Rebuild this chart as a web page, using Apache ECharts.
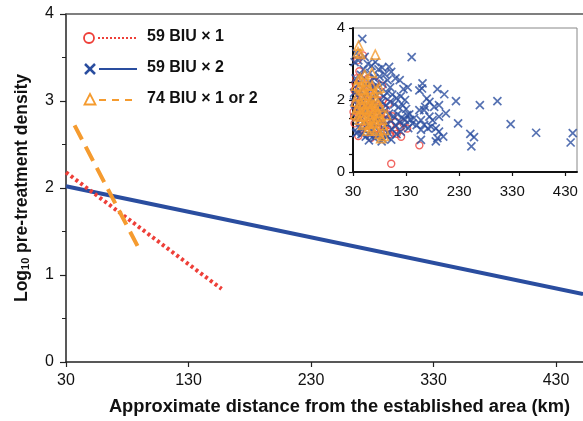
<!DOCTYPE html>
<html>
<head>
<meta charset="utf-8">
<script src="https://cdn.jsdelivr.net/npm/echarts@6/dist/echarts.min.js"></script>
<style>html,body{margin:0;padding:0;background:#fff}#c{width:583px;height:421px}</style>
</head>
<body>
<div id="c"></div>
<script>
// ---- data ----
var xTicks = [30, 130, 230, 330, 430];
var yTicksMain = [0, 1, 2, 3, 4];
var seriesNames = ['59 BIU \u00d7 1', '59 BIU \u00d7 2', '74 BIU \u00d7 1 or 2'];

// fitted lines (distance km, log10 density)
var fit1 = [[30, 2.18], [157, 0.84]];
var fit2 = [[30, 2.02], [452, 0.78]];
var fit3 = [[37, 2.72], [90, 1.29]];

// inset points
var pts1 = [[31,1.67],[33,2.27],[48.8,3.24],[102,0.23],[120.6,0.98],[112.5,1.06],[132,1.21],[155,0.74],[35,2.46],[86,2.0],
  [38,3.1],[34,1.9],[32,1.55],[45,1.4],[60,1.3],[75,1.2],[100,1.3],[108,1.15],[95,1.6],[90,1.25],
  [70,1.05],[55,1.1],[40,1.0],[65,1.6],[50,2.2],[58,2.6],[42,2.8],[37,2.0],[80,1.7],[85,2.4],
  [44,1.75],[52,1.5],[63,2.1],[68,1.85],[72,2.5],[78,1.35],[82,1.1],[92,1.45],[97,1.9],[104,1.55],
  [36,2.6],[41,2.3],[47,1.2],[54,1.9],[61,2.35],[66,1.35],[73,1.6],[88,1.75],[110,1.4],[118,1.25],
  [33,1.35],[39,1.6],[46,2.05],[57,1.7],[64,0.95],[76,2.0],[84,1.5],[99,1.05],[125,1.35]];
var pts2 = [[47.5,3.7],[36,3.3],[33,3.05],[40,3.1],[52,3.2],[58,3.0],[65,2.95],[72,3.05],[50,2.85],[45,2.7],
  [62,2.75],[78,2.85],[85,2.9],[98,2.92],[102,2.78],[90,2.72],[80,2.65],[110,2.6],[118,2.55],[95,2.55],
  [70,2.6],[60,2.5],[35,2.6],[40,2.45],[55,2.4],[67,2.35],[75,2.4],[86,2.45],[100,2.35],[125,2.3],
  [133,2.35],[140.6,3.19],[32,2.2],[38,2.15],[44,2.25],[52,2.1],[58,2.2],[64,2.05],[72,2.15],[80,2.2],
  [88,2.1],[94,2.2],[104,2.15],[112,2.05],[120,2.1],[128,2.0],[32,1.95],[40,1.9],[48,1.95],[56,1.85],
  [62,1.95],[70,1.9],[78,1.8],[84,1.95],[92,1.85],[100,1.95],[108,1.88],[116,1.8],[124,1.85],[130,1.75],
  [34,1.7],[42,1.75],[50,1.65],[58,1.7],[66,1.6],[74,1.68],[82,1.6],[90,1.7],[98,1.62],[106,1.55],
  [114,1.6],[122,1.52],[132,1.58],[138,1.45],[36,1.5],[44,1.45],[52,1.4],[60,1.5],[68,1.38],[76,1.45],
  [86,1.4],[94,1.35],[102,1.42],[110,1.3],[118,1.38],[126,1.3],[134,1.22],[40,1.25],[48,1.2],[56,1.3],
  [64,1.15],[72,1.25],[80,1.12],[88,1.2],[96,1.1],[104,1.18],[112,1.05],[120,1.12],[46,1.05],[54,0.98],
  [62,1.02],[70,0.95],[78,1.0],[86,0.92],[94,0.98],[102,0.9],[60,0.88],[84,0.85],[38,1.1],[128,1.45],
  [136,1.6],[142,1.35],[145,1.5],[150,1.3],[36,1.08],
  [155,2.27],[169,2.04],[166,1.81],[174,1.95],[183,1.81],[192,1.86],[155,1.72],[164,1.72],[174,1.54],[158,1.44],
  [180,1.44],[192,1.54],[205,1.63],[164,1.31],[171,1.21],[177,1.26],[186,1.21],[192,1.12],[158,1.17],[189,0.94],
  [200,0.98],[186,0.85],[158,0.89],
  [161,2.46],[160,2.32],[189,2.3],[202,2.16],[224,1.97],[269,1.86],[302,1.97],[228,1.35],[251,1.06],[258,0.97],
  [253,0.71],[327,1.33],[375,1.09],[444,1.08],[440,0.82]];
var pts3 = [[40.6,3.51],[39.4,3.33],[43.8,3.28],[72,3.26],[65.6,2.76],[40.6,2.57],[55,2.53],[48.8,2.5],[80,2.34],[47.5,2.27],
  [63,2.23],[67.5,2.09],[51.9,2.0],[44.4,1.9],[60,1.9],[70.6,1.86],[55,1.72],[67.5,1.67],[73.8,1.63],[92.5,1.58],
  [80,1.54],[63,1.49],[39.4,1.54],[48.8,1.31],[67.5,1.35],[89,1.17],[80,1.06],[83,0.94],
  [36,2.4],[38,2.1],[42,2.35],[46,2.05],[50,2.3],[53,2.15],[57,2.4],[58,2.05],[61,2.3],[64,1.95],
  [66,2.4],[70,2.2],[74,2.0],[76,2.3],[78,1.85],[35,1.95],[37,1.75],[41,1.8],[45,1.65],[48,1.85],
  [52,1.55],[56,1.9],[59,1.6],[62,1.75],[65,1.8],[69,1.5],[72,1.75],[75,1.45],[77,1.65],[82,1.8],
  [85,1.45],[43,1.45],[47,1.55],[51,1.75],[54,1.35],[58,1.45],[61,1.25],[66,1.2],[71,1.4],[74,1.15],
  [86,1.3],[44,2.6],[52,2.7],[34,1.6],[88,1.0],[57,1.15]];

// ---- styles ----
var RED = '#ee3f38', BLUE = '#2a4d9f', ORANGE = '#f59b2f';
var FONT = '"Liberation Sans", Arial, sans-serif';
var XSYM = 'path://M0,0L10,10M0,10L10,0';

var chart = echarts.init(document.getElementById('c'), null, {renderer: 'canvas'});
var xr = {min: 30, max: 452};
chart.setOption({
  animation: false,
  textStyle: {fontFamily: FONT},
  grid: [
    {left: 66, right: 0, top: 14, bottom: 59},
    {left: 353, top: 28, width: 224, height: 144, show: true, backgroundColor: '#fff', borderColor: '#888', borderWidth: 1, z: 5}
  ],
  xAxis: [
    {gridIndex: 0, type: 'value', min: xr.min, max: xr.max, interval: 100,
      name: 'Approximate distance from the established area (km)', nameLocation: 'middle', nameGap: 36,
      nameTextStyle: {fontSize: 18.3, fontWeight: 'bold', color: '#111', fontFamily: FONT, padding: [0, 0, 0, 30]},
      axisLine: {lineStyle: {color: '#222', width: 1.5}},
      axisTick: {customValues: xTicks, length: 5, lineStyle: {color: '#222', width: 1.2}},
      axisLabel: {customValues: xTicks, fontSize: 16, color: '#111', margin: 11, fontFamily: FONT},
      splitLine: {show: false}},
    {gridIndex: 0, type: 'value', min: xr.min, max: xr.max, position: 'top',
      axisLine: {show: true, lineStyle: {color: '#555', width: 1.5}}, axisTick: {show: false}, axisLabel: {show: false}, splitLine: {show: false}},
    {gridIndex: 1, type: 'value', min: xr.min, max: xr.max, interval: 100, z: 6,
      axisLine: {lineStyle: {color: '#111', width: 2}},
      axisTick: {customValues: xTicks, length: 4, lineStyle: {color: '#111', width: 1.2}},
      axisLabel: {customValues: xTicks, fontSize: 15, color: '#111', margin: 12, fontFamily: FONT},
      splitLine: {show: false}}
  ],
  yAxis: [
    {gridIndex: 0, type: 'value', min: 0, max: 4, interval: 1,
      name: 'Log{sub|10} pre-treatment density', nameLocation: 'middle', nameGap: 35,
      nameTextStyle: {fontSize: 17.5, fontWeight: 'bold', color: '#111', fontFamily: FONT,
        rich: {sub: {fontSize: 11, fontWeight: 'bold', verticalAlign: 'bottom', padding: [7, 0, 0, 0], color: '#111', fontFamily: FONT}}},
      axisLine: {show: true, lineStyle: {color: '#222', width: 1.5}},
      axisTick: {length: 6, lineStyle: {color: '#222', width: 1.2}},
      minorTick: {show: true, splitNumber: 2, length: 4, lineStyle: {color: '#222', width: 1}},
      axisLabel: {fontSize: 16, color: '#111', margin: 12, fontFamily: FONT},
      splitLine: {show: false}},
    {gridIndex: 1, type: 'value', min: 0, max: 4, interval: 0.5, z: 6,
      axisLine: {show: true, lineStyle: {color: '#111', width: 2}},
      axisTick: {length: 4, lineStyle: {color: '#111', width: 1.2}},
      axisLabel: {fontSize: 15, color: '#111', margin: 8, fontFamily: FONT,
        formatter: function (v) { return (v % 2 === 0) ? String(v) : ''; }},
      splitLine: {show: false}}
  ],
  series: [
    {name: seriesNames[0], type: 'line', xAxisIndex: 0, yAxisIndex: 0, data: fit1, showSymbol: false, z: 3,
      lineStyle: {color: RED, width: 4, type: [3, 3]}},
    {name: seriesNames[1], type: 'line', xAxisIndex: 0, yAxisIndex: 0, data: fit2, showSymbol: false, z: 2,
      lineStyle: {color: BLUE, width: 4}},
    {name: seriesNames[2], type: 'line', xAxisIndex: 0, yAxisIndex: 0, data: fit3, showSymbol: false, z: 3,
      lineStyle: {color: ORANGE, width: 4, type: [16, 8]}},
    {name: seriesNames[0], type: 'scatter', xAxisIndex: 2, yAxisIndex: 1, data: pts1, z: 7,
      symbol: 'circle', symbolSize: 7, itemStyle: {color: 'rgba(0,0,0,0)', borderColor: RED, borderWidth: 1.4}},
    {name: seriesNames[1], type: 'scatter', xAxisIndex: 2, yAxisIndex: 1, data: pts2, z: 8,
      symbol: XSYM, symbolSize: 8, itemStyle: {color: 'rgba(0,0,0,0)', borderColor: BLUE, borderWidth: 1.7}},
    {name: seriesNames[2], type: 'scatter', xAxisIndex: 2, yAxisIndex: 1, data: pts3, z: 9,
      symbol: 'triangle', symbolSize: 9, itemStyle: {color: 'rgba(0,0,0,0)', borderColor: ORANGE, borderWidth: 1.6}}
  ],
  graphic: [
    {type: 'circle', shape: {cx: 89, cy: 38, r: 5}, style: {fill: 'none', stroke: RED, lineWidth: 1.8}},
    {type: 'line', shape: {x1: 98, y1: 38, x2: 137, y2: 38}, style: {stroke: RED, lineWidth: 2, lineDash: [2, 2]}},
    {type: 'text', left: 147, top: 29, style: {text: seriesNames[0], font: 'bold 16px ' + FONT, fill: '#111'}},
    {type: 'polyline', shape: {points: [[85, 64], [95, 74]]}, style: {stroke: BLUE, lineWidth: 2.5, fill: null}},
    {type: 'polyline', shape: {points: [[85, 74], [95, 64]]}, style: {stroke: BLUE, lineWidth: 2.5, fill: null}},
    {type: 'line', shape: {x1: 99, y1: 69, x2: 137, y2: 69}, style: {stroke: BLUE, lineWidth: 2}},
    {type: 'text', left: 147, top: 60, style: {text: seriesNames[1], font: 'bold 16px ' + FONT, fill: '#111'}},
    {type: 'polygon', shape: {points: [[90, 94], [84.5, 104.5], [95.5, 104.5]]}, style: {fill: 'none', stroke: ORANGE, lineWidth: 1.8}},
    {type: 'line', shape: {x1: 99, y1: 100, x2: 137, y2: 100}, style: {stroke: ORANGE, lineWidth: 2, lineDash: [7, 6]}},
    {type: 'text', left: 147, top: 91, style: {text: seriesNames[2], font: 'bold 16px ' + FONT, fill: '#111'}}
  ]
});
</script>
</body>
</html>
